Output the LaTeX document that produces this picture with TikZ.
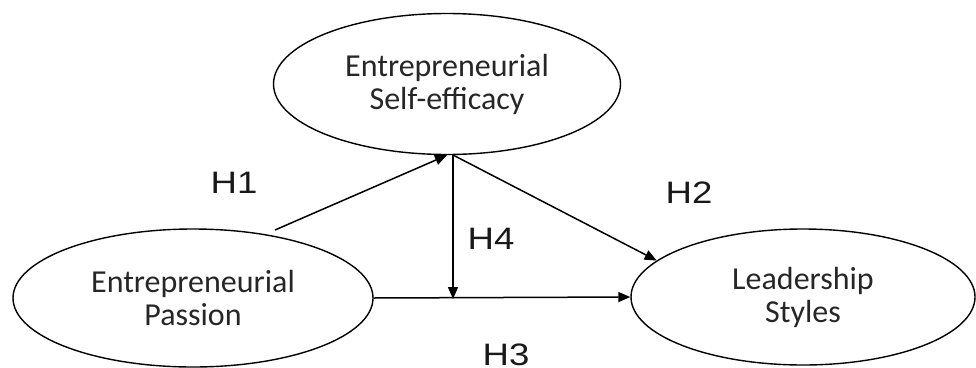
\documentclass[tikz,border=0pt]{standalone}
\usepackage{fontspec}
\setmainfont{Carlito}
\newfontfamily\labfont{Liberation Sans}
\usetikzlibrary{shapes.geometric,arrows.meta}
\newcommand{\hlab}[1]{\scalebox{1.18}[1]{#1}}
\begin{document}
\begin{tikzpicture}[x=1pt,y=-1pt,
  construct/.style={draw, line width=1.4pt, ellipse, inner sep=0pt, align=center,
     font=\fontsize{32}{33}\selectfont, text=black!85},
  hyp/.style={font=\labfont\fontsize{31}{31}\selectfont, text=black!90},
  link/.style={line width=1.5pt, -{Triangle[length=12pt,width=10pt]}}]
\useasboundingbox (0,0) rectangle (976,367);
\node[construct, minimum width=360pt, minimum height=138pt] (ep) at (193,298) {Entrepreneurial\\Passion};
\node[construct, minimum width=347pt, minimum height=141pt] (ese) at (447,84) {Entrepreneurial\\Self-efficacy};
\node[construct, minimum width=344pt, minimum height=136pt] (ls) at (803,297) {Leadership\\Styles};
\coordinate (h1s) at (275,230);
\coordinate (mtop) at (453,155);
\coordinate (mod) at (453,299);
\draw[link] (h1s) -- (ese.south);
\draw[link] (mtop) -- (mod);
\draw[link] (mtop) -- (ls.166);
\draw[link] (ep.east) -- (ls.west);
\node[hyp] (H1) at (234,183) {\hlab{H1}};
\node[hyp] (H2) at (689,193) {\hlab{H2}};
\node[hyp] (H4) at (491,239) {\hlab{H4}};
\node[hyp] (H3) at (506,355) {\hlab{H3}};
\end{tikzpicture}
\end{document}
